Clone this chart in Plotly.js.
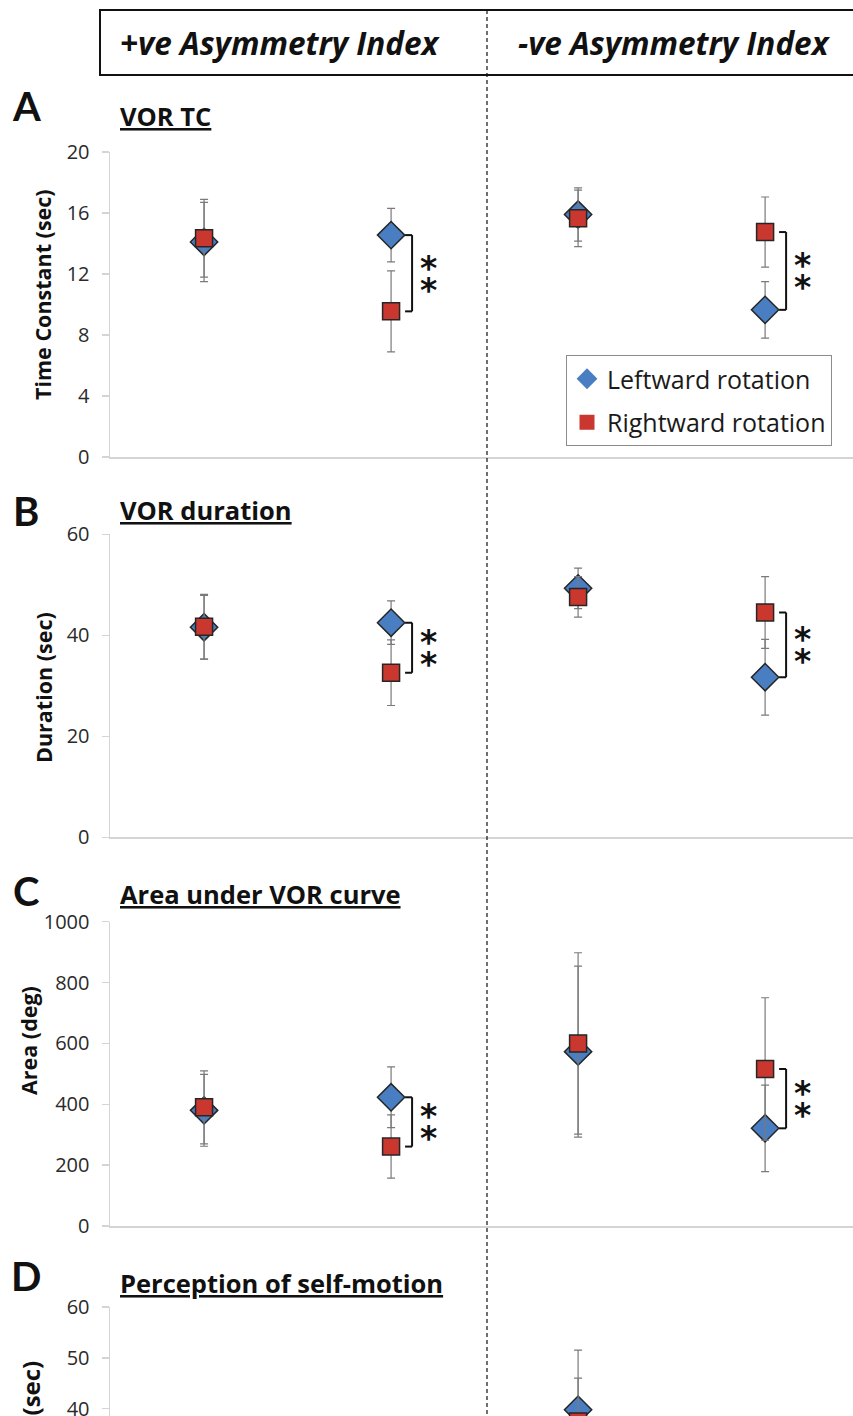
<!DOCTYPE html>
<html><head><meta charset="utf-8">
<script src="https://cdn.plot.ly/plotly-3.0.1.min.js"></script>
<style>
html,body{margin:0;padding:0;background:#fff;overflow:hidden}
#wrap{width:853px;height:1416px;overflow:hidden;position:relative}
#chart{width:853px;height:1700px}
</style>
</head><body><div id="wrap"><div id="chart"></div></div>
<script>
// ---- data ----
var categories = ['+ve group 1', '+ve group 2', '-ve group 1', '-ve group 2'];
var seriesNames = ['Leftward rotation', 'Rightward rotation'];

var tcLeft = [14.1, 14.55, 15.9, 9.65];
var tcLeftErr = [2.6, 1.75, 1.75, 1.85];
var tcRight = [14.35, 9.55, 15.65, 14.75];
var tcRightErr = [2.55, 2.65, 1.85, 2.3];

var durLeft = [41.6, 42.5, 49.3, 31.7];
var durLeftErr = [6.3, 4.3, 4.0, 7.5];
var durRight = [41.7, 32.6, 47.6, 44.5];
var durRightErr = [6.4, 6.5, 4.0, 7.1];

var areaLeft = [380, 423, 573, 321];
var areaLeftErr = [118, 100, 281, 142];
var areaRight = [390, 261, 600, 516];
var areaRightErr = [120, 104, 298, 234];

var percLeft = [null, null, 39.8, null];
var percLeftErr = [null, null, 11.7, null];
var percRight = [null, null, 37.5, null];
var percRightErr = [null, null, 8.5, null];

var panelLetters = ['A', 'B', 'C', 'D'];
var panelTitles = ['VOR TC', 'VOR duration', 'Area under VOR curve', 'Perception of self-motion'];
var yTitles = ['Time Constant (sec)', 'Duration (sec)', 'Area (deg)', 'Duration (sec)'];
var yRanges = [[0, 20], [0, 60], [0, 1000], [0, 60]];
var yDticks = [4, 20, 200, 10];
var sigGroups = [[1, 3], [1, 3], [1, 3], []];
var headerLabels = ['+ve Asymmetry Index', '-ve Asymmetry Index'];

// ---- layout helpers ----
var W = 853, H = 1700;
function px(x) { return x / W; }
function py(y) { return 1 - y / H; }

var BLUE = '#4A7EC2', RED = '#C9372F', OUT = '#262626', ERR = '#7a7a7a', AX = '#d4d4d4';
var FONT = '"Open Sans", Lato, sans-serif';
var LFONT = 'Lato, "Open Sans", sans-serif';

var panels = [
  {left: tcLeft, leftErr: tcLeftErr, right: tcRight, rightErr: tcRightErr, top: 152, bottom: 457, letterY: 106, titleY: 116, yTitleX: 42, yTitleY: 295, yTitleSize: 21.5},
  {left: durLeft, leftErr: durLeftErr, right: durRight, rightErr: durRightErr, top: 534.3, bottom: 837.3, letterY: 511, titleY: 510, yTitleX: 43, yTitleY: 688, yTitleSize: 21.5},
  {left: areaLeft, leftErr: areaLeftErr, right: areaRight, rightErr: areaRightErr, top: 921.7, bottom: 1226, letterY: 891, titleY: 894, yTitleX: 28, yTitleY: 1041, yTitleSize: 21.5},
  {left: percLeft, leftErr: percLeftErr, right: percRight, rightErr: percRightErr, top: 1307, bottom: 1612, letterY: 1276, titleY: 1283, yTitleX: 30, yTitleY: 1445, yTitleSize: 24}
];

var traces = [], shapes = [], annotations = [];
var layout = {
  width: W, height: H,
  margin: {l: 0, r: 0, t: 0, b: 0},
  paper_bgcolor: '#fff', plot_bgcolor: 'rgba(0,0,0,0)',
  font: {family: FONT, color: '#222'},
  showlegend: true,
  legend: {
    x: px(566), y: py(355), xanchor: 'left', yanchor: 'top',
    bordercolor: '#8c8c8c', borderwidth: 1, bgcolor: '#fff',
    font: {family: FONT, size: 25, color: '#1a1a1a'},
    tracegroupgap: 8
  }
};

panels.forEach(function (p, i) {
  var s = i === 0 ? '' : String(i + 1);
  var xa = 'x' + s, ya = 'y' + s;
  layout['xaxis' + s] = {
    domain: [px(110), 1], anchor: ya, type: 'category',
    categoryorder: 'array', categoryarray: categories,
    range: [-0.503, 3.47], showline: true, linecolor: AX, linewidth: 1.5,
    showticklabels: false, ticks: '', showgrid: false, zeroline: false, fixedrange: true
  };
  layout['yaxis' + s] = {
    domain: [py(p.bottom), py(p.top)], anchor: xa,
    range: yRanges[i], dtick: yDticks[i], tick0: 0,
    showline: true, linecolor: AX, linewidth: 1.5,
    ticks: 'outside', ticklen: 7, tickcolor: AX, tickwidth: 1.5,
    ticklabelstandoff: 8,
    tickfont: {family: FONT, size: 20, color: '#2a2a2a'},
    showgrid: false, zeroline: false, fixedrange: true
  };
  traces.push({
    type: 'scatter', mode: 'markers', x: categories, y: p.left, xaxis: xa, yaxis: ya,
    name: seriesNames[0], showlegend: false,
    marker: {symbol: 'diamond', size: 21, color: BLUE, line: {color: OUT, width: 1.5}},
    error_y: {type: 'data', array: p.leftErr, visible: true, color: ERR, thickness: 1.2, width: 4}
  });
  traces.push({
    type: 'scatter', mode: 'markers', x: categories, y: p.right, xaxis: xa, yaxis: ya,
    name: seriesNames[1], showlegend: false,
    marker: {symbol: 'square', size: 17, color: RED, line: {color: OUT, width: 1.5}},
    error_y: {type: 'data', array: p.rightErr, visible: true, color: ERR, thickness: 1.2, width: 4}
  });

  // panel letter, title, y title
  annotations.push({xref: 'paper', yref: 'paper', x: px(26), y: py(p.letterY), xanchor: 'center', yanchor: 'middle',
    text: '<b>' + panelLetters[i] + '</b>', showarrow: false, font: {family: LFONT, size: 40, color: '#111'}});
  annotations.push({xref: 'paper', yref: 'paper', x: px(118), y: py(p.titleY), xanchor: 'left', yanchor: 'middle',
    text: '<b><u>' + panelTitles[i] + '</u></b>', showarrow: false, font: {family: FONT, size: 25.5, color: '#111'}});
  annotations.push({xref: 'paper', yref: 'paper', x: px(p.yTitleX), y: py(p.yTitleY), xanchor: 'center', yanchor: 'middle',
    textangle: -90, text: '<b>' + yTitles[i] + '</b>', showarrow: false, font: {family: FONT, size: p.yTitleSize, color: '#111'}});

  // significance brackets
  sigGroups[i].forEach(function (g) {
    var lo = Math.min(p.left[g], p.right[g]), hi = Math.max(p.left[g], p.right[g]);
    var base = {type: 'line', xref: xa, yref: ya, xsizemode: 'pixel', xanchor: g, line: {color: '#111', width: 2}};
    shapes.push(Object.assign({}, base, {x0: 21, x1: 21, y0: lo, y1: hi}));
    shapes.push(Object.assign({}, base, {x0: 14, x1: 21, y0: lo, y1: lo}));
    shapes.push(Object.assign({}, base, {x0: 14, x1: 21, y0: hi, y1: hi}));
    var mid = (lo + hi) / 2;
    [5, -17].forEach(function (ys) {
      annotations.push({xref: xa, yref: ya, x: g, y: mid, xshift: 37, yshift: ys, xanchor: 'center', yanchor: 'middle',
        text: '<b>*</b>', showarrow: false, font: {family: '"DejaVu Sans", sans-serif', size: 33, color: '#111'}});
    });
  });
});

// legend-only traces (no outline like reference legend)
traces.push({type: 'scatter', mode: 'markers', x: [null], y: [null], name: seriesNames[0], legendgroup: 'l',
  marker: {symbol: 'diamond', size: 17, color: BLUE}});
traces.push({type: 'scatter', mode: 'markers', x: [null], y: [null], name: seriesNames[1], legendgroup: 'r',
  marker: {symbol: 'square', size: 15, color: RED}});

// header box and divider
shapes.push({type: 'rect', xref: 'paper', yref: 'paper', x0: px(100), x1: px(880), y0: py(75), y1: py(10),
  line: {color: '#111', width: 2}, fillcolor: 'rgba(0,0,0,0)'});
shapes.push({type: 'line', xref: 'paper', yref: 'paper', x0: px(487), x1: px(487), y0: py(10), y1: 0,
  line: {color: '#111', width: 1.2, dash: '4px,3px'}});
annotations.push({xref: 'paper', yref: 'paper', x: px(118), y: py(43), xanchor: 'left', yanchor: 'middle',
  text: '<b><i>' + headerLabels[0] + '</i></b>', showarrow: false, font: {family: FONT, size: 31.5, color: '#111'}});
annotations.push({xref: 'paper', yref: 'paper', x: px(516), y: py(43), xanchor: 'left', yanchor: 'middle',
  text: '<b><i>' + headerLabels[1] + '</i></b>', showarrow: false, font: {family: FONT, size: 31.5, color: '#111'}});

layout.shapes = shapes;
layout.annotations = annotations;

Plotly.newPlot('chart', traces, layout, {staticPlot: true, displayModeBar: false});
</script></body></html>
